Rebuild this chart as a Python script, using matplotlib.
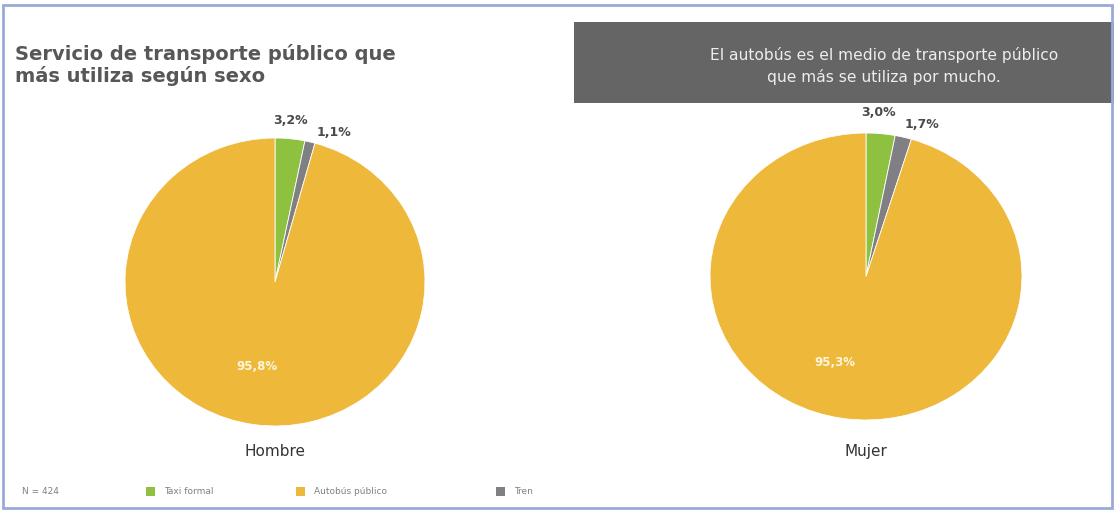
import matplotlib
matplotlib.use("Agg")
import matplotlib.pyplot as plt
from matplotlib.patches import Rectangle

categories = ["Taxi formal", "Tren", "Autobús público"]
legend_order = ["Taxi formal", "Autobús público", "Tren"]
hombre = [3.2, 1.1, 95.8]
mujer = [3.0, 1.7, 95.3]
group_labels = ["Hombre", "Mujer"]
colors = {"Taxi formal": "#8DC13F", "Tren": "#7F7F84", "Autobús público": "#EEB83A"}

W, H = 1114, 512
fig = plt.figure(figsize=(W / 100, H / 100), dpi=100)
fig.patch.set_facecolor("white")

def px_axes(x0, y0, x1, y1):
    return fig.add_axes([x0 / W, 1 - y1 / H, (x1 - x0) / W, (y1 - y0) / H])

def fmt(v):
    return f"{v:.1f}".replace(".", ",") + "%"

def draw_pie(rect, values, name, small_offsets, big_pos, name_y):
    ax = px_axes(*rect)
    ax.pie(values, colors=[colors[c] for c in categories],
           startangle=90, counterclock=False,
           wedgeprops=dict(edgecolor="white", linewidth=0.6))
    ax.set_aspect("auto")
    ax.set_xlim(-1, 1)
    ax.set_ylim(-1, 1)
    for (dx, dy), v in zip(small_offsets, values[:2]):
        ax.text(dx, dy, fmt(v), ha="center", va="center", fontsize=9,
                fontweight="bold", color="#4a4a4a", clip_on=False)
    ax.text(big_pos[0], big_pos[1], fmt(values[2]), ha="center", va="center",
            fontsize=8.5, fontweight="bold", color="#FFF6DC")
    ax.text(0, name_y, name, ha="center", va="center", fontsize=11,
            color="#333333", clip_on=False)
    return ax

draw_pie((125, 138, 425, 426), hombre, group_labels[0],
         [(0.1, 1.12), (0.39, 1.04)], (-0.12, -0.59), -1.18)
draw_pie((710, 133, 1022, 420), mujer, group_labels[1],
         [(0.08, 1.14), (0.36, 1.06)], (-0.2, -0.6), -1.22)

ov = fig.add_axes([0, 0, 1, 1])
ov.set_xlim(0, W)
ov.set_ylim(H, 0)
ov.axis("off")

ov.text(15, 65, "Servicio de transporte público que\nmás utiliza según sexo",
        ha="left", va="center", fontsize=14, fontweight="bold",
        color="#575757", family="DejaVu Sans", linespacing=1.15)

ov.add_patch(Rectangle((574, 22), 540, 81, facecolor="#656565", edgecolor="none"))
ov.text(884, 66, "El autobús es el medio de transporte público\nque más se utiliza por mucho.",
        ha="center", va="center", fontsize=11.2, color="#EDEDED",
        family="DejaVu Sans", linespacing=1.45)

ov.text(22, 492, "N = 424", ha="left", va="center", fontsize=6.5, color="#808080")
leg_x = {"Taxi formal": 150, "Autobús público": 300, "Tren": 500}
for c in legend_order:
    x = leg_x[c]
    ov.add_patch(Rectangle((x - 4, 487), 9, 9, facecolor=colors[c], edgecolor="none"))
    ov.text(x + 14, 492, c, ha="left", va="center", fontsize=6.5, color="#808080")

ov.add_patch(Rectangle((3, 5), W - 5, H - 9, facecolor="none",
                       edgecolor="#9AAAD6", linewidth=2.0))

fig.savefig("out.png", dpi=100, facecolor="white")
